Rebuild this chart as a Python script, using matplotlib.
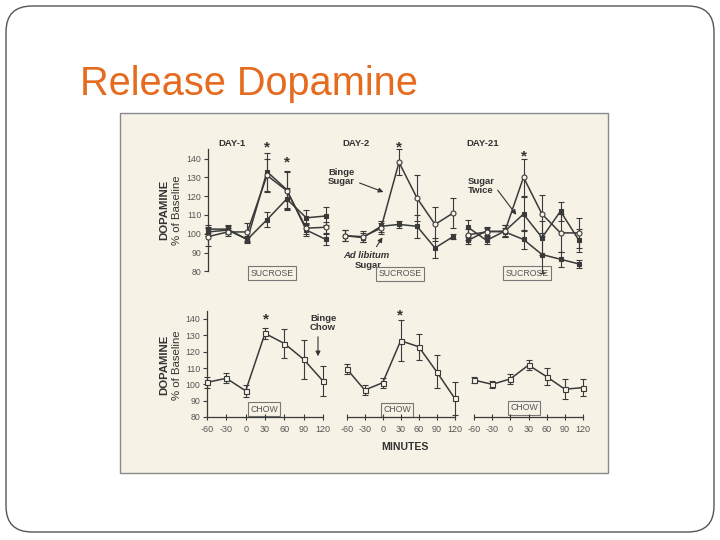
import matplotlib
matplotlib.use("Agg")
import matplotlib.pyplot as plt
from matplotlib.patches import FancyBboxPatch, Rectangle

plt.rcParams["font.family"] = ["Liberation Sans", "DejaVu Sans"]
plt.rcParams["axes.unicode_minus"] = False

W, H = 720, 540
CREAM = "#f6f2e6"
INK = "#3a3a3a"

MINUTES = [-60, -30, 0, 30, 60, 90, 120]
YTICKS = [80, 90, 100, 110, 120, 130, 140]

# top row: sucrose access (DAY-1, DAY-2, DAY-21)
d1_binge = [98.5, 101, 101, 131, 123, 103, 103.5]
d1_binge_err = [5, 2, 5, 9, 10, 3, 3]
d1_twice = [102.5, 102.5, 97, 133, 123.5, 102, 97]
d1_twice_err = [2, 2, 2, 10, 10, 3, 3]
d1_adlib = [101, 102, 97, 107.5, 118.5, 108.5, 109.5]
d1_adlib_err = [2, 2, 1.5, 4, 6, 4, 5]

d2_binge = [99, 98.5, 103, 138, 119, 105, 111]
d2_binge_err = [3, 3, 3, 7, 12, 9, 8]
d2_adlib = [99, 98, 104, 105, 104, 92.5, 98.5]
d2_adlib_err = [3, 2.5, 3, 2, 6, 5.5, 1.5]

d21_binge = [99.5, 101, 101.5, 130, 110.5, 100.5, 100.5]
d21_binge_err = [3, 2, 3, 10, 10, 10, 8]
d21_twice = [103.5, 96.5, 101.5, 110.5, 98, 112, 96.5]
d21_twice_err = [4, 2, 3, 9, 9, 5, 6]
d21_adlib = [96.5, 101.5, 101, 97, 89, 86.5, 84]
d21_adlib_err = [2, 2, 2, 5, 10, 4, 2]

# bottom row: chow
chow1 = [101.2, 103.7, 96, 131.2, 125, 115.3, 102]
chow1_err = [3.5, 3, 3.5, 3.5, 9, 12, 9]
chow2 = [109.5, 96.5, 101, 126.7, 123, 107.7, 91.4]
chow2_err = [3, 3, 3, 12.5, 8, 10, 10]
chow21 = [102.6, 100, 103.3, 111.8, 104.7, 97, 98]
chow21_err = [2, 2, 3, 3, 5, 6, 5]


fig = plt.figure(figsize=(7.2, 5.4), dpi=100)
fig.patch.set_facecolor("white")

# canvas in pixel units for slide decoration
bg = fig.add_axes([0, 0, 1, 1])
bg.set_xlim(0, W); bg.set_ylim(H, 0); bg.axis("off")
bg.add_patch(FancyBboxPatch((6, 6), 708, 526,
                            boxstyle="round,pad=0,rounding_size=26",
                            fc="white", ec="#555555", lw=1.0))
bg.text(80, 95, "Release Dopamine", fontsize=28.6, color="#e56b1f",
        ha="left", va="baseline")
bg.add_patch(Rectangle((120, 113), 488, 360, fc=CREAM, ec="#8a8a8a", lw=1.0))


def panel(x0, x1, y80, y140, xlim=(-70, 130), ylim=(74, 152)):
    sx = (x1 - x0) / 180.0
    sy = (y80 - y140) / 60.0
    left = x0 + (xlim[0] + 60) * sx
    right = x0 + (xlim[1] + 60) * sx
    bottom = y80 + (80 - ylim[0]) * sy
    top = y80 - (ylim[1] - 80) * sy
    ax = fig.add_axes([left / W, 1 - bottom / H, (right - left) / W,
                       (bottom - top) / H])
    ax.set_xlim(xlim); ax.set_ylim(ylim)
    ax.patch.set_alpha(0)
    for s in ax.spines.values():
        s.set_visible(False)
    ax.set_xticks([]); ax.set_yticks([])
    return ax


def yaxis(ax):
    sp = ax.spines["left"]
    sp.set_visible(True); sp.set_position(("data", -60))
    sp.set_bounds(80, 145); sp.set_color(INK); sp.set_linewidth(0.9)
    ax.set_yticks(YTICKS)
    ax.tick_params(axis="y", direction="out", length=3, width=0.8,
                   labelsize=6.3, labelcolor="#555555", color=INK, pad=2)


def xaxis(ax):
    sp = ax.spines["bottom"]
    sp.set_visible(True); sp.set_position(("data", 80))
    sp.set_bounds(-60, 120); sp.set_color(INK); sp.set_linewidth(0.9)
    ax.set_xticks(MINUTES)
    ax.tick_params(axis="x", direction="inout", length=4, width=0.8,
                   labelsize=6.5, labelcolor="#555555", color=INK, pad=4)


def series(ax, y, err, marker, filled):
    ax.errorbar(MINUTES, y, yerr=err, color=INK, lw=1.1, elinewidth=0.8,
                capsize=2.5, capthick=0.8, marker=marker,
                ms=3.2 if marker == "s" and filled else 3.6,
                mfc=INK if filled else CREAM, mec=INK, mew=0.8,
                clip_on=False, zorder=3)


top = dict(y80=271.5, y140=158.5)
bot = dict(y80=417, y140=319)

ax1 = panel(208, 326, **top)
yaxis(ax1)
series(ax1, d1_adlib, d1_adlib_err, "s", True)
series(ax1, d1_twice, d1_twice_err, "s", True)
series(ax1, d1_binge, d1_binge_err, "o", False)

ax2 = panel(345, 453, **top)
series(ax2, d2_adlib, d2_adlib_err, "s", True)
series(ax2, d2_binge, d2_binge_err, "o", False)

ax3 = panel(468, 579, **top)
series(ax3, d21_adlib, d21_adlib_err, "s", True)
series(ax3, d21_twice, d21_twice_err, "s", True)
series(ax3, d21_binge, d21_binge_err, "o", False)

ax4 = panel(207, 323, **bot)
yaxis(ax4); xaxis(ax4)
series(ax4, chow1, chow1_err, "s", False)

ax5 = panel(346.7, 454.7, **bot)
xaxis(ax5)
series(ax5, chow2, chow2_err, "s", False)

ax6 = panel(474, 583, **bot)
xaxis(ax6)
series(ax6, chow21, chow21_err, "s", False)

# labels in pixel coordinates on the canvas
txt = dict(color="#333333", fontweight="bold")
for x, s in [(232, "DAY-1"), (356, "DAY-2"), (483, "DAY-21")]:
    bg.text(x, 143, s, fontsize=6.8, ha="center", va="center", **txt)
for x, y in [(267, 147), (287, 162), (399, 147), (524, 156), (266, 319),
             (400, 315)]:
    bg.text(x, y, "*", fontsize=11, ha="center", va="center", **txt)

for yc in (210, 365):
    bg.text(164, yc, "DOPAMINE", fontsize=8.2, rotation=90, ha="center",
            va="center", **txt)
    bg.text(177, yc, "% of Baseline", fontsize=8.2, rotation=90,
            ha="center", va="center", color="#333333")
bg.text(405, 447, "MINUTES", fontsize=7.6, ha="center", va="center", **txt)

bg.text(328, 177, "Binge\nSugar", fontsize=6.8, ha="left", va="center",
        linespacing=1.1, **txt)
bg.text(366, 255, "Ad libitum", fontsize=6.8, ha="center", va="center",
        style="italic", **txt)
bg.text(368, 265, "Sugar", fontsize=6.8, ha="center", va="center", **txt)
bg.text(468, 186, "Sugar\nTwice", fontsize=6.8, ha="left", va="center",
        linespacing=1.1, **txt)
bg.text(310, 323, "Binge\nChow", fontsize=6.8, ha="left", va="center",
        linespacing=1.1, **txt)

arrow = dict(arrowstyle="-|>", color="#333333", lw=0.8, mutation_scale=7)
bg.annotate("", xy=(386, 193), xytext=(357, 182), arrowprops=arrow)
bg.annotate("", xy=(384, 235), xytext=(375, 249), arrowprops=arrow)
bg.annotate("", xy=(518, 217), xytext=(496, 188), arrowprops=arrow)
bg.annotate("", xy=(318, 359), xytext=(318, 334), arrowprops=arrow)

box = dict(boxstyle="square,pad=0.25", fc="none", ec="#777777", lw=0.8)
for x, y, s in [(272, 273, "SUCROSE"), (400, 274, "SUCROSE"),
                (527, 273, "SUCROSE"), (264, 409, "CHOW"),
                (397, 410, "CHOW"), (524, 408, "CHOW")]:
    bg.text(x, y, s, fontsize=6.3, color="#555555", ha="center",
            va="center", bbox=box)

fig.savefig("out.png", dpi=100)
